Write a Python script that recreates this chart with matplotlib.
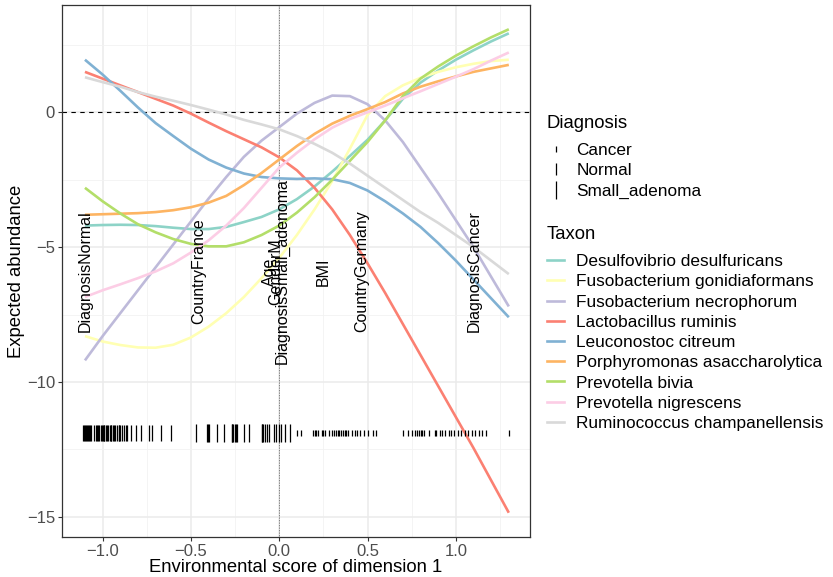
import matplotlib
matplotlib.use("Agg")
import matplotlib.pyplot as plt
from matplotlib.lines import Line2D

plt.rcParams['font.family'] = ['Liberation Sans', 'DejaVu Sans']

xs = [-1.1, -1.0, -0.9, -0.8, -0.7, -0.6, -0.5, -0.4, -0.3, -0.2, -0.1, 0.0,
      0.1, 0.2, 0.3, 0.4, 0.5, 0.6, 0.7, 0.8, 0.9, 1.0, 1.1, 1.2, 1.3]

taxa = ["Desulfovibrio desulfuricans", "Fusobacterium gonidiaformans",
        "Fusobacterium necrophorum", "Lactobacillus ruminis",
        "Leuconostoc citreum", "Porphyromonas asaccharolytica",
        "Prevotella bivia", "Prevotella nigrescens",
        "Ruminococcus champanellensis"]
colors = ["#8DD3C7", "#FFFFB3", "#BEBADA", "#FB8072", "#80B1D3",
          "#FDB462", "#B3DE69", "#FCCDE5", "#D9D9D9"]

desulfovibrio = [-4.2, -4.18, -4.17, -4.18, -4.22, -4.28, -4.33, -4.33, -4.25, -4.07,
                 -3.88, -3.6, -3.22, -2.75, -2.2, -1.62, -1.02, -0.3, 0.5, 1.1,
                 1.55, 1.95, 2.3, 2.63, 2.93]
fuso_gonid = [-8.3, -8.5, -8.63, -8.72, -8.73, -8.62, -8.35, -7.95, -7.45, -6.85,
              -6.15, -5.4, -4.55, -3.6, -2.55, -1.35, -0.1, 0.6, 1.0, 1.28,
              1.5, 1.67, 1.8, 1.9, 1.95]
fuso_necro = [-9.2, -8.3, -7.45, -6.6, -5.75, -4.9, -4.05, -3.2, -2.4, -1.65,
              -1.05, -0.55, -0.05, 0.35, 0.62, 0.6, 0.3, -0.3, -1.1, -2.05,
              -3.0, -4.0, -5.0, -6.1, -7.2]
lactobacillus = [1.5, 1.25, 1.0, 0.75, 0.5, 0.25, -0.05, -0.38, -0.7, -1.0,
                 -1.3, -1.67, -2.15, -2.8, -3.6, -4.55, -5.6, -6.7, -7.85, -9.0,
                 -10.15, -11.3, -12.45, -13.65, -14.85]
leuconostoc = [1.95, 1.4, 0.8, 0.18, -0.4, -0.88, -1.35, -1.75, -2.05, -2.27,
               -2.4, -2.45, -2.47, -2.45, -2.48, -2.62, -2.9, -3.3, -3.75, -4.25,
               -4.85, -5.5, -6.2, -6.9, -7.6]
porphyromonas = [-3.8, -3.78, -3.76, -3.74, -3.7, -3.63, -3.52, -3.35, -3.1, -2.7,
                 -2.25, -1.75, -1.25, -0.8, -0.42, -0.13, 0.12, 0.38, 0.7, 0.95,
                 1.15, 1.33, 1.5, 1.63, 1.76]
prev_bivia = [-2.8, -3.3, -3.75, -4.15, -4.45, -4.7, -4.88, -4.97, -4.97, -4.82,
              -4.55, -4.2, -3.72, -3.15, -2.5, -1.8, -1.1, -0.3, 0.6, 1.25,
              1.7, 2.1, 2.45, 2.78, 3.08]
prev_nigr = [-6.85, -6.6, -6.38, -6.15, -5.9, -5.6, -5.2, -4.75, -4.2, -3.55,
             -2.8, -2.05, -1.5, -1.0, -0.57, -0.25, 0.0, 0.25, 0.52, 0.78,
             1.05, 1.32, 1.6, 1.92, 2.22]
rumino = [1.3, 1.12, 0.95, 0.75, 0.58, 0.43, 0.27, 0.1, -0.08, -0.28,
          -0.45, -0.63, -0.88, -1.17, -1.5, -1.9, -2.35, -2.8, -3.25, -3.7,
          -4.1, -4.55, -5.0, -5.5, -6.0]
curves = [desulfovibrio, fuso_gonid, fuso_necro, lactobacillus, leuconostoc,
          porphyromonas, prev_bivia, prev_nigr, rumino]

# sample scores (rug) with diagnosis
normal_x = [-1.11, -1.105, -1.10, -1.095, -1.09, -1.08, -1.075, -1.07, -1.065,
            -1.05, -1.04, -1.03, -1.025, -1.02, -1.01, -1.005, -1.0, -0.995,
            -0.99, -0.98, -0.975, -0.97, -0.96, -0.955, -0.95, -0.94, -0.935,
            -0.93, -0.92, -0.91, -0.905, -0.90, -0.89, -0.88, -0.87, -0.86,
            -0.84, -0.81, -0.78, -0.74, -0.72, -0.67, -0.61]
adenoma_x = [-0.47, -0.41, -0.405, -0.40, -0.35, -0.31, -0.27, -0.265, -0.26,
             -0.25, -0.245, -0.24, -0.20, -0.17, -0.10, -0.095, -0.09, -0.08,
             -0.07, -0.06, -0.03, -0.02, 0.0, 0.01, 0.03, 0.06]
cancer_x = [0.10, 0.125, 0.19, 0.20, 0.21, 0.22, 0.24, 0.25, 0.26, 0.28, 0.30,
            0.31, 0.32, 0.33, 0.34, 0.35, 0.36, 0.37, 0.38, 0.39, 0.41, 0.43,
            0.44, 0.46, 0.48, 0.50, 0.53, 0.55, 0.70, 0.73, 0.75, 0.77, 0.78,
            0.79, 0.80, 0.81, 0.82, 0.85, 0.88, 0.89, 0.91, 0.92, 0.94, 0.96,
            0.97, 0.99, 1.01, 1.03, 1.05, 1.07, 1.09, 1.11, 1.13, 1.15, 1.17, 1.30]
rug_y = -11.9
diag_names = ["Cancer", "Normal", "Small_adenoma"]
diag_sizes = [4, 9, 12.5]
rug_sizes = [5, 12, 13]

# variable labels
var_labels = ["DiagnosisNormal", "CountryFrance", "Age", "GenderM",
              "DiagnosisSmall_adenoma", "BMI", "CountryGermany", "DiagnosisCancer"]
var_x = [-1.1, -0.455, -0.057, -0.02, 0.015, 0.248, 0.466, 1.106]
var_y = -5.9

fig = plt.figure(figsize=(8.33, 5.77), dpi=100)
ax = fig.add_axes([62/833, 1-537/577, (530-62)/833, (537-5)/577])

ax.set_xticks([-1.0, -0.5, 0.0, 0.5, 1.0])
ax.set_xticks([-0.75, -0.25, 0.25, 0.75, 1.25], minor=True)
ax.set_yticks([0, -5, -10, -15])
ax.set_yticks([2.5, -2.5, -7.5, -12.5], minor=True)
ax.grid(which='major', color='#EBEBEB', lw=1.1)
ax.grid(which='minor', color='#F2F2F2', lw=0.6)
ax.set_axisbelow(True)

ax.axhline(0, color='black', ls=(0, (4, 4)), lw=0.8, zorder=1.5)
ax.axvline(0, color='#555555', ls=(0, (1, 1)), lw=0.6, zorder=1.5)

for name, col, vals in zip(taxa, colors, curves):
    ax.plot(xs, vals, color=col, lw=1.9, solid_capstyle='butt',
            solid_joinstyle='round', zorder=2)

rug_groups = [cancer_x, normal_x, adenoma_x]
for grp, ms in zip(rug_groups, rug_sizes):
    ax.plot(grp, [rug_y]*len(grp), ls='none', marker='|', ms=ms,
            mew=0.9, color='black', zorder=3)

for lab, x in zip(var_labels, var_x):
    ax.text(x, var_y, lab, rotation=90, ha='center', va='center',
            fontsize=11.5, color='black', zorder=4)

ax.set_xlim(-1.23, 1.42)
ax.set_ylim(-15.75, 3.98)
for s in ax.spines.values():
    s.set_color('#333333')
    s.set_linewidth(0.9)
ax.tick_params(which='major', length=3, width=0.8, color='#333333',
               labelsize=12, labelcolor='#4D4D4D', pad=2)
ax.tick_params(which='minor', length=0)
ax.xaxis.set_major_formatter(matplotlib.ticker.FuncFormatter(
    lambda v, p: ("%.1f" % v).replace('-', '\u2212')))
ax.yaxis.set_major_formatter(matplotlib.ticker.FuncFormatter(
    lambda v, p: ("%d" % v).replace('-', '\u2212')))
ax.set_xlabel("Environmental score of dimension 1", fontsize=13.3, labelpad=0)
ax.set_ylabel("Expected abundance", fontsize=13.3, labelpad=1)

# legends
diag_handles = [Line2D([], [], ls='none', marker='|', ms=ms, mew=0.9, color='black')
                for ms in diag_sizes]
leg1 = fig.legend(diag_handles, diag_names, title="Diagnosis", loc='upper left',
                  bbox_to_anchor=(547/833, 1-115/577), frameon=False,
                  fontsize=12.4, title_fontsize=13.3, handlelength=1.0,
                  handletextpad=0.7, labelspacing=0.3, borderpad=0,
                  borderaxespad=0, alignment='left')
leg1._legend_box.sep = 8
tax_handles = [Line2D([], [], color=c, lw=1.9) for c in colors]
leg2 = fig.legend(tax_handles, taxa, title="Taxon", loc='upper left',
                  bbox_to_anchor=(547/833, 1-226/577), frameon=False,
                  fontsize=12.4, title_fontsize=13.3, handlelength=1.0,
                  handletextpad=0.7, labelspacing=0.3, borderpad=0,
                  borderaxespad=0, alignment='left')
leg2._legend_box.sep = 8

fig.savefig("out.png", dpi=100)
